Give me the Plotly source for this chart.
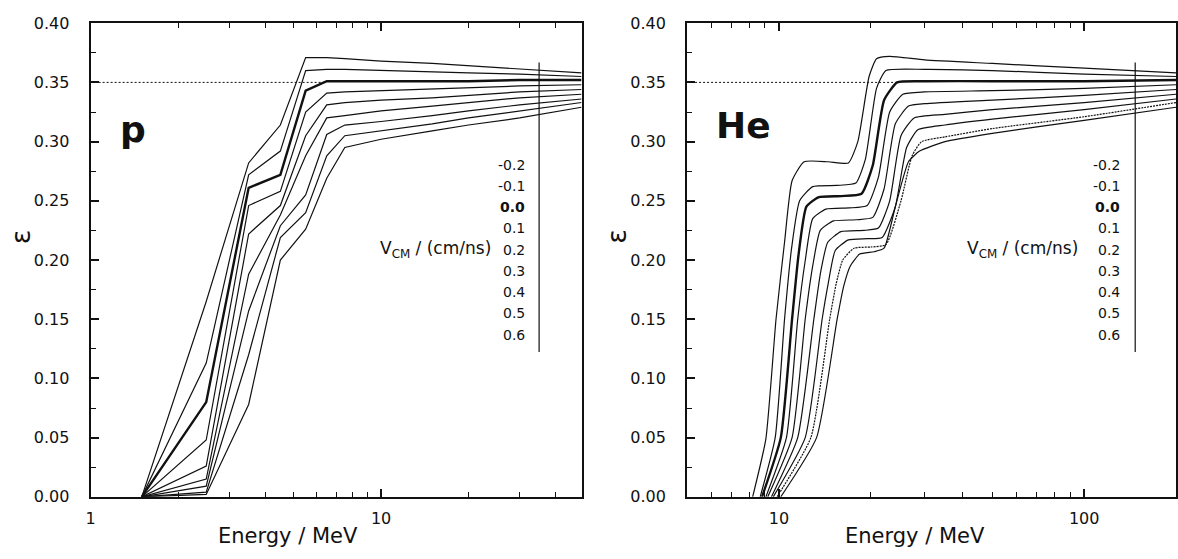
import math
import plotly.graph_objects as go

# ---------------------------------------------------------------- data
velocities = ["-0.2", "-0.1", "0.0", "0.1", "0.2", "0.3", "0.4", "0.5", "0.6"]

# protons: efficiency on a common energy grid (MeV)
p_energy = [1.5, 2.5, 3.5, 4.5, 5.5, 6.5, 7.5, 10, 15, 20, 30, 49]
p_eps_m02 = [0, 0.165, 0.282, 0.314, 0.371, 0.371, 0.370, 0.368, 0.366, 0.364, 0.361, 0.358]
p_eps_m01 = [0, 0.113, 0.272, 0.292, 0.360, 0.361, 0.361, 0.360, 0.359, 0.358, 0.357, 0.355]
p_eps_000 = [0, 0.080, 0.261, 0.272, 0.343, 0.351, 0.351, 0.351, 0.351, 0.351, 0.352, 0.352]
p_eps_p01 = [0, 0.048, 0.246, 0.258, 0.325, 0.341, 0.342, 0.343, 0.344, 0.345, 0.347, 0.348]
p_eps_p02 = [0, 0.026, 0.222, 0.246, 0.305, 0.331, 0.333, 0.335, 0.337, 0.339, 0.342, 0.344]
p_eps_p03 = [0, 0.015, 0.188, 0.238, 0.288, 0.320, 0.322, 0.326, 0.330, 0.333, 0.337, 0.340]
p_eps_p04 = [0, 0.009, 0.157, 0.229, 0.255, 0.306, 0.314, 0.317, 0.322, 0.326, 0.331, 0.336]
p_eps_p05 = [0, 0.004, 0.120, 0.219, 0.240, 0.288, 0.305, 0.309, 0.315, 0.320, 0.326, 0.333]
p_eps_p06 = [0, 0.002, 0.078, 0.200, 0.226, 0.269, 0.295, 0.302, 0.309, 0.314, 0.320, 0.329]

# helium: each curve has its own energy sampling (MeV)
he_E_m02 = [8.20, 9.06, 9.78, 10.43, 11.04, 12.09, 14.5, 16.89, 18.13, 19.74, 20.88, 23.06, 30, 50, 100, 200]
he_eps_m02 = [0, 0.049, 0.150, 0.215, 0.267, 0.283, 0.283, 0.282, 0.300, 0.355, 0.370, 0.372, 0.369, 0.366, 0.362, 0.358]
he_E_m01 = [8.68, 9.72, 10.43, 11.0, 11.69, 12.90, 15.5, 17.87, 19.19, 20.88, 22.42, 30, 50, 100, 200]
he_eps_m01 = [0, 0.050, 0.150, 0.210, 0.250, 0.262, 0.263, 0.265, 0.285, 0.345, 0.360, 0.361, 0.360, 0.357, 0.355]
he_E_000 = [8.80, 10.14, 11.04, 11.6, 12.30, 13.46, 16.0, 18.65, 20.30, 22.10, 24.40, 30, 50, 100, 200]
he_eps_000 = [0, 0.050, 0.150, 0.205, 0.245, 0.253, 0.254, 0.256, 0.280, 0.335, 0.350, 0.351, 0.351, 0.351, 0.352]
he_E_p01 = [9.06, 10.58, 11.52, 12.2, 12.90, 14.25, 17.0, 19.46, 21.18, 23.06, 25.46, 30, 50, 100, 200]
he_eps_p01 = [0, 0.050, 0.150, 0.200, 0.235, 0.243, 0.244, 0.246, 0.270, 0.325, 0.340, 0.342, 0.343, 0.345, 0.348]
he_E_p02 = [9.19, 11.04, 12.19, 12.9, 13.66, 15.08, 18.0, 20.30, 22.10, 24.06, 26.57, 30, 50, 100, 200]
he_eps_p02 = [0, 0.050, 0.150, 0.195, 0.225, 0.233, 0.234, 0.236, 0.260, 0.315, 0.330, 0.332, 0.335, 0.339, 0.344]
he_E_p03 = [9.45, 11.52, 13.01, 13.7, 14.45, 15.96, 19.0, 21.18, 23.06, 25.11, 27.73, 35, 50, 100, 200]
he_eps_p03 = [0, 0.050, 0.150, 0.190, 0.215, 0.224, 0.225, 0.227, 0.250, 0.305, 0.320, 0.323, 0.327, 0.333, 0.340]
he_E_p04 = [9.58, 12.19, 13.85, 14.5, 15.29, 16.89, 19.5, 21.79, 24.06, 26.2, 28.52, 35, 50, 100, 200]
he_eps_p04 = [0, 0.050, 0.150, 0.180, 0.208, 0.217, 0.218, 0.219, 0.245, 0.295, 0.310, 0.314, 0.319, 0.327, 0.336]
he_E_p05 = [9.86, 12.72, 14.66, 15.4, 16.18, 17.62, 20.0, 22.42, 25.11, 27.3, 29.34, 35, 50, 100, 200]
he_eps_p05 = [0, 0.050, 0.150, 0.180, 0.200, 0.210, 0.211, 0.213, 0.250, 0.288, 0.300, 0.304, 0.311, 0.321, 0.333]
he_E_p06 = [10.14, 13.28, 15.51, 16.3, 17.13, 18.39, 20.5, 22.10, 24.06, 26.57, 28.9, 35, 50, 100, 200]
he_eps_p06 = [0, 0.050, 0.150, 0.178, 0.195, 0.205, 0.207, 0.210, 0.245, 0.283, 0.292, 0.300, 0.307, 0.318, 0.329]

p_series = [p_eps_m02, p_eps_m01, p_eps_000, p_eps_p01, p_eps_p02,
            p_eps_p03, p_eps_p04, p_eps_p05, p_eps_p06]
he_series = [(he_E_m02, he_eps_m02), (he_E_m01, he_eps_m01), (he_E_000, he_eps_000),
             (he_E_p01, he_eps_p01), (he_E_p02, he_eps_p02), (he_E_p03, he_eps_p03),
             (he_E_p04, he_eps_p04), (he_E_p05, he_eps_p05), (he_E_p06, he_eps_p06)]

# reference efficiency and where the dotted guide ends
eps_ref = 0.35
p_ref_end = 6.5
he_ref_end = 24.4

# axis ticks
y_major = [0.00, 0.05, 0.10, 0.15, 0.20, 0.25, 0.30, 0.35, 0.40]
y_minor = [0.025, 0.075, 0.125, 0.175, 0.225, 0.275, 0.325, 0.375]
p_x_major = [1, 10]
p_x_minor = [2, 3, 4, 5, 6, 7, 8, 9, 20, 30, 40]
he_x_major = [10, 100]
he_x_minor = [6, 7, 8, 9, 20, 30, 40, 50, 60, 70, 80, 90]
p_x_range = (1, 49)
he_x_range = (5, 200)

# legend column: velocity labels and the bar next to them
legend_top = 0.2806
legend_step = 0.01795
legend_bar = (0.1223, 0.3669)
p_bar_energy = 35
he_bar_energy = 147

# ---------------------------------------------------------------- layout geometry
W, H = 1178, 559
Y_TOP, Y_BOT = 14.7, 505          # plot area, pixels from top
P_LEFT, P_RIGHT = 86, 579
HE_LEFT, HE_RIGHT = 685, 1176


def px_x(v):
    return v / W


def px_y(v):
    return 1 - v / H


FONT = "DejaVu Sans"
INK = "#111111"

fig = go.Figure()

# proton curves (piecewise linear)
for i, eps in enumerate(p_series):
    fig.add_trace(go.Scatter(
        x=p_energy, y=eps, mode="lines", xaxis="x", yaxis="y",
        line=dict(color=INK, width=2.4 if velocities[i] == "0.0" else 1.2),
        hoverinfo="skip"))

# helium curves (smooth)
for i, (E, eps) in enumerate(he_series):
    fig.add_trace(go.Scatter(
        x=E, y=eps, mode="lines", xaxis="x2", yaxis="y2",
        line=dict(color=INK, width=2.4 if velocities[i] == "0.0" else 1.2,
                  shape="spline", smoothing=0.5,
                  dash="2px,1px" if velocities[i] == "0.5" else "solid"),
        hoverinfo="skip"))

# dotted reference line at eps = 0.35
fig.add_trace(go.Scatter(x=[p_x_range[0], p_ref_end], y=[eps_ref, eps_ref], mode="lines",
                         xaxis="x", yaxis="y", line=dict(color=INK, width=1, dash="2px,2px")))
fig.add_trace(go.Scatter(x=[he_x_range[0], he_ref_end], y=[eps_ref, eps_ref], mode="lines",
                         xaxis="x2", yaxis="y2", line=dict(color=INK, width=1, dash="2px,2px")))

# vertical bars beside the velocity labels
fig.add_trace(go.Scatter(x=[p_bar_energy, p_bar_energy], y=list(legend_bar), mode="lines",
                         xaxis="x", yaxis="y", line=dict(color=INK, width=1.2)))
fig.add_trace(go.Scatter(x=[he_bar_energy, he_bar_energy], y=list(legend_bar), mode="lines",
                         xaxis="x2", yaxis="y2", line=dict(color=INK, width=1.2)))

tickfont = dict(family=FONT, size=16, color=INK)


def x_axis(domain, rng, major, minor, anchor):
    return dict(
        type="log", domain=domain, range=[math.log10(rng[0]), math.log10(rng[1])],
        anchor=anchor, tickmode="array", tickvals=major, ticktext=[str(v) for v in major],
        ticks="inside", ticklen=8, tickwidth=1.5, tickcolor=INK,
        minor=dict(tickmode="array", tickvals=minor, ticks="inside", ticklen=5,
                   tickwidth=1.2, tickcolor=INK),
        showline=True, linewidth=2, linecolor=INK, mirror="ticks",
        showgrid=False, zeroline=False, tickfont=tickfont, ticklabelstandoff=6)


def y_axis(anchor):
    return dict(
        domain=[px_y(Y_BOT), px_y(Y_TOP)], range=[0, 0.40], anchor=anchor,
        tickmode="array", tickvals=y_major, ticktext=[f"{v:.2f}" for v in y_major],
        ticks="inside", ticklen=8, tickwidth=1.5, tickcolor=INK,
        minor=dict(tickmode="array", tickvals=y_minor, ticks="inside", ticklen=5,
                   tickwidth=1.2, tickcolor=INK),
        showline=True, linewidth=2, linecolor=INK, mirror=True,
        showgrid=False, zeroline=False, tickfont=tickfont, ticklabelstandoff=16)


annotations = []


def text(x, y, s, size, xref="paper", yref="paper", xanchor="center", yanchor="middle",
         angle=0, bold=False):
    annotations.append(dict(
        x=x, y=y, xref=xref, yref=yref, text=f"<b>{s}</b>" if bold else s, showarrow=False,
        xanchor=xanchor, yanchor=yanchor, textangle=angle,
        font=dict(family=FONT, size=size, color=INK)))


for yref, left, title_x, tag, tag_x, tag_y, num_right, vcm_right in [
        ("y", P_LEFT, 284, "p", 129, 0.310, 524, 490),
        ("y2", HE_LEFT, 914, "He", 742, 0.314, 1122, 1080)]:
    text(px_x(left - 71), 0.22, "ε", 27, yref=yref, angle=-90)
    text(px_x(title_x), px_y(546), "Energy / MeV", 21)
    text(px_x(tag_x), tag_y, tag, 36, yref=yref, bold=True)
    for k, v in enumerate(velocities):
        text(px_x(num_right), legend_top - k * legend_step, v, 14, yref=yref,
             xanchor="right", bold=(v == "0.0"))
    text(px_x(vcm_right), legend_top - 4 * legend_step, "V<sub>CM</sub> / (cm/ns)", 17,
         yref=yref, xanchor="right")

fig.update_layout(
    width=W, height=H, margin=dict(l=0, r=0, t=0, b=0),
    paper_bgcolor="white", plot_bgcolor="white", showlegend=False,
    xaxis=x_axis([px_x(P_LEFT), px_x(P_RIGHT)], p_x_range, p_x_major, p_x_minor, "y"),
    yaxis=y_axis("x"),
    xaxis2=x_axis([px_x(HE_LEFT), px_x(HE_RIGHT)], he_x_range, he_x_major, he_x_minor, "y2"),
    yaxis2=y_axis("x2"),
    annotations=annotations,
)

fig.write_html("out.html")
